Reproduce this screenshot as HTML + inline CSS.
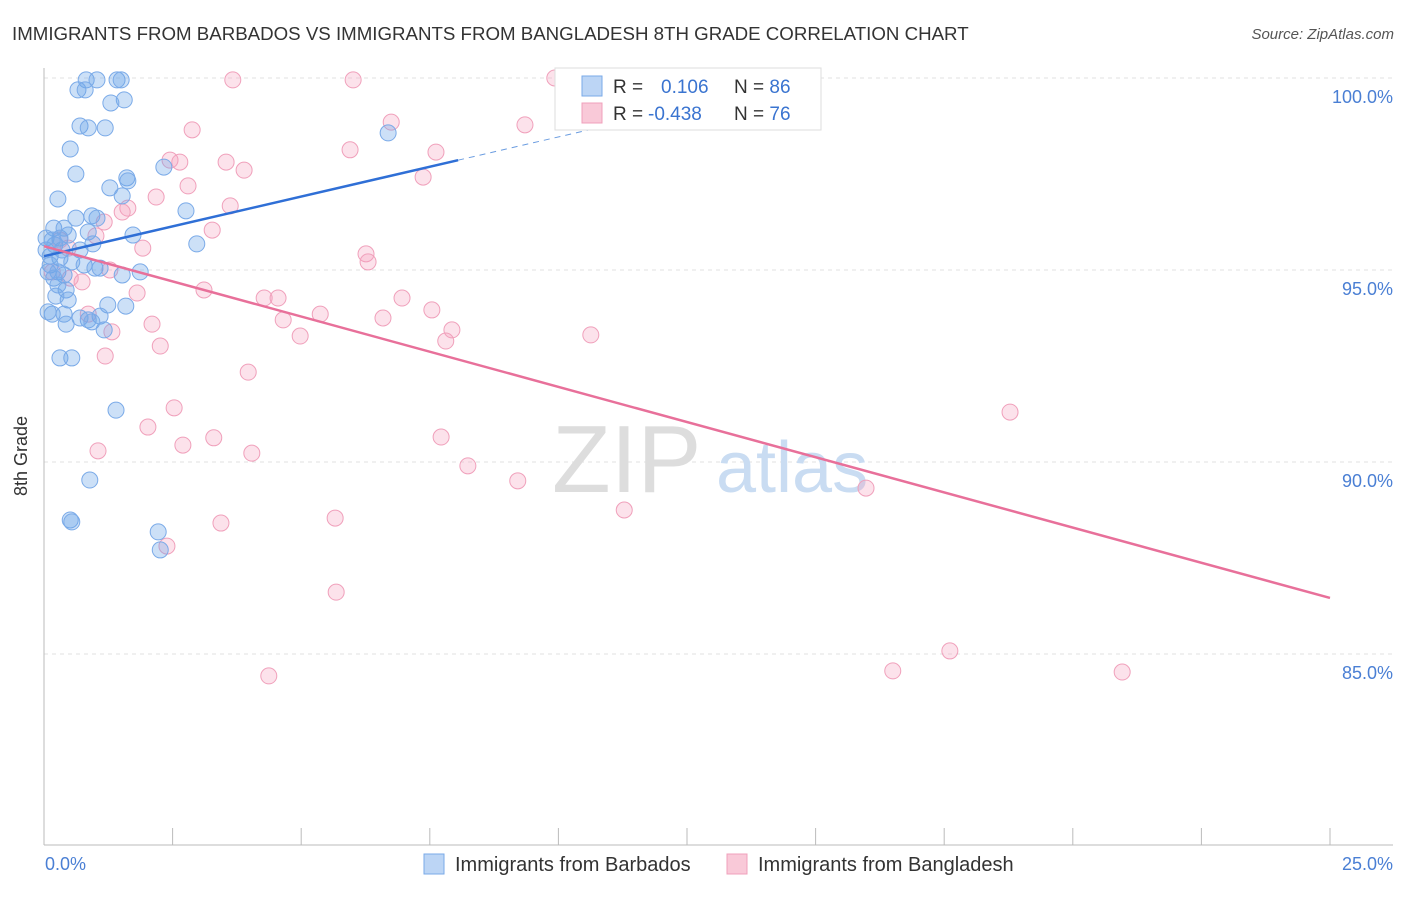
<!DOCTYPE html>
<html><head><meta charset="utf-8">
<style>
body{margin:0;background:#fff;font-family:"Liberation Sans",sans-serif;}
svg text{font-family:"Liberation Sans",sans-serif;}
</style></head>
<body>
<svg id="chart" width="1406" height="892" xmlns="http://www.w3.org/2000/svg">
<text x="12" y="40" font-size="18.7" fill="#333">IMMIGRANTS FROM BARBADOS VS IMMIGRANTS FROM BANGLADESH 8TH GRADE CORRELATION CHART</text>
<text x="1394" y="39" font-size="15" fill="#555" font-style="italic" text-anchor="end">Source: ZipAtlas.com</text>
<g id="grid"></g>
<g>
<text x="552" y="492" font-size="96" fill="#ddd" font-family="Liberation Serif,serif">ZIP</text>
<text x="716" y="492" font-size="72" fill="#c9dcf2">atlas</text>
</g>
<line x1="44" y1="68" x2="44" y2="845" stroke="#bbb"/>
<line x1="44" y1="845" x2="1393" y2="845" stroke="#bbb"/>
<g id="xticks"></g>
<g id="yticks"></g>
<text x="27" y="456" font-size="18" fill="#333" text-anchor="middle" transform="rotate(-90 27 456)">8th Grade</text>
<text x="45" y="870" font-size="18" fill="#4a7fd4">0.0%</text>
<text x="1393" y="870" font-size="18" fill="#4a7fd4" text-anchor="end">25.0%</text>
<g id="pinkPts"></g>
<g id="bluePts"></g>
<g id="trends"></g>
<g>
<rect x="555" y="68" width="266" height="62" fill="#fff" stroke="#ddd"/>
<rect x="582" y="76" width="20" height="20" fill="#bcd5f5" stroke="#7aaae8"/>
<rect x="582" y="103" width="20" height="20" fill="#f9c9d8" stroke="#f0a0bb"/>
<text x="613" y="93" font-size="19" fill="#333">R = <tspan fill="#3a74d0" x="661">0.106</tspan><tspan x="734">N = </tspan><tspan fill="#3a74d0">86</tspan></text>
<text x="613" y="120" font-size="19" fill="#333">R = <tspan fill="#3a74d0" x="648">-0.438</tspan><tspan x="734">N = </tspan><tspan fill="#3a74d0">76</tspan></text>
</g>
<g>
<rect x="424" y="854" width="20" height="20" fill="#bcd5f5" stroke="#7aaae8"/>
<text x="455" y="871" font-size="20" fill="#333">Immigrants from Barbados</text>
<rect x="727" y="854" width="20" height="20" fill="#f9c9d8" stroke="#f0a0bb"/>
<text x="758" y="871" font-size="20" fill="#333">Immigrants from Bangladesh</text>
</g>
</svg>
<script>
const blueX=[.82,1.03,1.42,1.50,.66,.80,1.56,1.30,.70,.86,1.19,.51,2.33,.62,1.61,1.63,1.28,1.52,.27,2.76,.93,1.03,.62,.19,.39,.86,1.73,.04,.31,.47,.21,.95,2.97,.70,.12,.31,.54,.12,.78,.99,1.09,1.87,1.52,.08,.27,.39,.19,.43,.47,.23,1.24,1.59,.16,.39,1.09,.86,.43,1.17,.31,.54,1.40,.89,.51,.54,2.22,2.26,6.69,.04,.35,.16,.27,.70,.93,.08];
const blueY=[99.95,99.95,99.95,99.95,99.69,99.69,99.43,99.35,98.75,98.70,98.70,98.15,97.68,97.50,97.40,97.32,97.14,96.93,96.85,96.54,96.41,96.35,96.35,96.09,96.09,95.99,95.91,95.83,95.83,95.91,95.65,95.68,95.68,95.52,95.36,95.31,95.21,95.13,95.13,95.05,95.05,94.95,94.87,94.95,94.95,94.87,94.79,94.48,94.22,94.32,94.09,94.06,93.85,93.85,93.80,93.70,93.59,93.44,92.71,92.71,91.35,89.53,88.49,88.44,88.18,87.71,98.57,95.52,95.52,95.78,94.61,93.75,93.65,93.91];
const pinkX=[3.67,6.01,9.93,6.75,9.35,2.88,5.95,7.62,2.45,2.64,3.54,3.89,7.37,2.80,2.18,3.62,1.63,1.52,1.17,3.27,1.01,.31,1.92,.47,6.26,6.30,1.28,.16,.51,.74,1.81,3.11,4.28,4.55,6.96,5.37,7.54,4.65,6.59,2.10,.86,1.32,4.98,7.93,7.81,10.63,2.26,1.19,3.97,2.53,18.78,2.02,3.30,7.72,2.70,1.05,4.04,8.24,9.21,15.98,11.28,5.66,3.44,2.39,5.68,17.61,16.50,20.96,4.37];
const pinkY=[99.95,99.95,100,98.85,98.78,98.65,98.13,98.07,97.86,97.81,97.81,97.60,97.42,97.19,96.90,96.67,96.61,96.51,96.25,96.04,95.89,95.78,95.57,95.57,95.42,95.21,95.00,94.95,94.79,94.69,94.40,94.48,94.27,94.27,94.27,93.85,93.96,93.70,93.75,93.59,93.85,93.39,93.28,93.44,93.15,93.31,93.02,92.76,92.34,91.41,91.30,90.91,90.63,90.65,90.44,90.29,90.23,89.90,89.51,89.32,88.75,88.54,88.41,87.81,86.61,85.08,84.56,84.53,84.43];
const yTicks=[100,95,90,85];
const yTickLabels=["100.0%","95.0%","90.0%","85.0%"];
const xTickVals=[0,2.5,5,7.5,10,12.5,15,17.5,20,22.5,25];
const blueTrend=[95.36,97.86];
const blueTrendX=[0,8.05,11.6];
const pinkTrend=[95.62,86.46];
const X0=44,X1=1330,YTOP=78,PXPER=38.4;
const sx=v=>X0+(v/25)*(X1-X0);
const sy=v=>YTOP+(100-v)*PXPER;
const NS="http://www.w3.org/2000/svg";
function mk(tag,attrs,parent){const e=document.createElementNS(NS,tag);for(const k in attrs)e.setAttribute(k,attrs[k]);parent.appendChild(e);return e;}
const grid=document.getElementById('grid'),yt=document.getElementById('yticks'),xt=document.getElementById('xticks');
yTicks.forEach((v,i)=>{
 const l=mk('line',{x1:44,x2:1393,y1:sy(v),y2:sy(v),stroke:'#e2e2e2','stroke-dasharray':'4 4'},grid);
 
 
 const t=mk('text',{x:1393,y:sy(v)+25,'font-size':18,fill:'#4a7fd4','text-anchor':'end'},yt);
 t.textContent=yTickLabels[i];
 
 
});
xTickVals.forEach(v=>{
 const l=mk('line',{x1:sx(v),x2:sx(v),y1:828,y2:845,stroke:'#bbb'},xt);
 
 
});
const pp=document.getElementById('pinkPts');
pinkX.forEach((x,i)=>{
 const c=mk('circle',{cx:sx(x),cy:sy(pinkY[i]),r:8,fill:'rgba(244,160,190,0.3)',stroke:'#f0a0bb','stroke-width':1},pp);
 
 
});
const bp=document.getElementById('bluePts');
blueX.forEach((x,i)=>{
 const c=mk('circle',{cx:sx(x),cy:sy(blueY[i]),r:8,fill:'rgba(110,165,232,0.35)',stroke:'#7aaae8','stroke-width':1},bp);
 
 
});
const tr=document.getElementById('trends');
const slope=(blueTrend[1]-blueTrend[0])/(blueTrendX[1]-blueTrendX[0]);
const bl=mk('line',{x1:sx(blueTrendX[0]),y1:sy(blueTrend[0]),x2:sx(blueTrendX[1]),y2:sy(blueTrend[1]),stroke:'#2f6fd6','stroke-width':2.5},tr);


const bd=mk('line',{x1:sx(blueTrendX[1]),y1:sy(blueTrend[1]),x2:sx(blueTrendX[2]),y2:sy(blueTrend[0]+slope*blueTrendX[2]),stroke:'#6a9ce0','stroke-width':1,'stroke-dasharray':'6 5'},tr);


const pl=mk('line',{x1:sx(0),y1:sy(pinkTrend[0]),x2:sx(25),y2:sy(pinkTrend[1]),stroke:'#e8709a','stroke-width':2.5},tr);


</script>
</body></html>
